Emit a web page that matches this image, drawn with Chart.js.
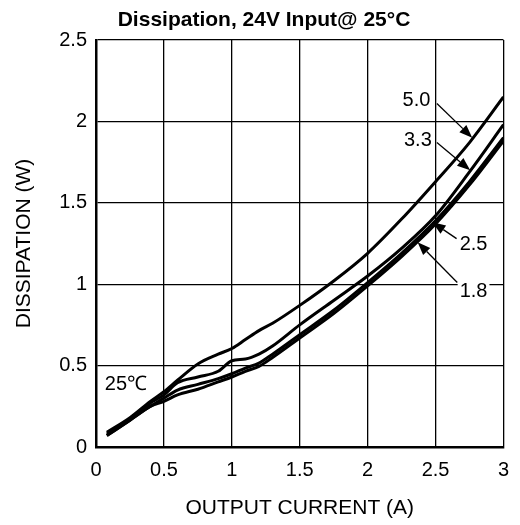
<!DOCTYPE html>
<html><head><meta charset="utf-8">
<script src="https://cdn.jsdelivr.net/npm/chart.js@4/dist/chart.umd.min.js"></script>
<style>html,body{margin:0;padding:0;background:#fff}#wrap{width:520px;height:525px}</style>
</head><body><div id="wrap"><canvas id="c" width="520" height="525"></canvas></div>
<script>
const current = [0.08, 0.25, 0.4, 0.5, 0.6, 0.75, 0.9, 1.0, 1.1, 1.2, 1.3, 1.5, 1.75, 2.0, 2.25, 2.5, 2.75, 3.0];
const v50 = [0.09, 0.18, 0.28, 0.34, 0.41, 0.51, 0.57, 0.605, 0.66, 0.715, 0.76, 0.87, 1.02, 1.19, 1.40, 1.63, 1.87, 2.15];
const v33 = [0.08, 0.17, 0.27, 0.32, 0.395, 0.43, 0.465, 0.53, 0.54, 0.57, 0.62, 0.75, 0.90, 1.05, 1.22, 1.42, 1.69, 1.98];
const v25 = [0.07, 0.165, 0.25, 0.30, 0.35, 0.385, 0.42, 0.45, 0.485, 0.515, 0.57, 0.69, 0.84, 1.01, 1.19, 1.39, 1.63, 1.90];
const v18 = [0.07, 0.165, 0.25, 0.28, 0.32, 0.355, 0.40, 0.43, 0.465, 0.495, 0.55, 0.67, 0.82, 0.99, 1.17, 1.37, 1.61, 1.88];
const seriesNames = ['5.0', '3.3', '2.5', '1.8'];
const xTicks = [0, 0.5, 1, 1.5, 2, 2.5, 3];
const yTicks = [0, 0.5, 1, 1.5, 2, 2.5];
const titleText = 'Dissipation, 24V Input@ 25°C';
const xTitle = 'OUTPUT CURRENT (A)';
const yTitle = 'DISSIPATION (W)';
const tempLabel = '25℃';
// labels: text position, leader start, arrow tip (data units)
const callouts = [
  {text: '5.0', tx: 2.36, ty: 2.13, sx: 2.51, sy: 2.11, ex: 2.77, ey: 1.90, bg: false},
  {text: '3.3', tx: 2.37, ty: 1.88, sx: 2.51, sy: 1.87, ex: 2.755, ey: 1.70, bg: false},
  {text: '2.5', tx: 2.78, ty: 1.245, sx: 2.655, sy: 1.28, ex: 2.478, ey: 1.38, bg: true},
  {text: '1.8', tx: 2.78, ty: 0.957, sx: 2.66, sy: 1.01, ex: 2.368, ey: 1.258, bg: true}
];
const tempPos = {x: 0.065, y: 0.385};

const FONT = 'Arial, "Liberation Sans", sans-serif';
function mk(vals){ return current.map((x,i)=>({x:x, y:vals[i]})); }
const all = [v50, v33, v25, v18];

const annot = {
  id: 'annot',
  afterDatasetsDraw(chart){
    const ctx = chart.ctx, xs = chart.scales.x, ys = chart.scales.y;
    ctx.save();
    ctx.font = '20px ' + FONT;
    ctx.fillStyle = '#000'; ctx.strokeStyle = '#000';
    callouts.forEach(c=>{
      const tx = xs.getPixelForValue(c.tx), ty = ys.getPixelForValue(c.ty);
      const sx = xs.getPixelForValue(c.sx), sy = ys.getPixelForValue(c.sy);
      const ex = xs.getPixelForValue(c.ex), ey = ys.getPixelForValue(c.ey);
      if (c.bg){
        const w = ctx.measureText(c.text).width;
        ctx.fillStyle = '#fff';
        ctx.fillRect(tx - w/2 - 2, ty - 10, w + 4, 20);
        ctx.fillStyle = '#000';
      }
      ctx.textAlign = 'center'; ctx.textBaseline = 'middle';
      ctx.fillText(c.text, tx, ty);
      const ang = Math.atan2(ey - sy, ex - sx);
      const L = 13, W = 5;
      const bx = ex - L*Math.cos(ang), by = ey - L*Math.sin(ang);
      ctx.lineWidth = 1.3;
      ctx.beginPath(); ctx.moveTo(sx, sy); ctx.lineTo(bx, by); ctx.stroke();
      ctx.beginPath();
      ctx.moveTo(ex, ey);
      ctx.lineTo(bx + W*Math.sin(ang), by - W*Math.cos(ang));
      ctx.lineTo(bx - W*Math.sin(ang), by + W*Math.cos(ang));
      ctx.closePath(); ctx.fill();
    });
    ctx.textAlign = 'left'; ctx.textBaseline = 'middle';
    ctx.fillText(tempLabel, xs.getPixelForValue(tempPos.x), ys.getPixelForValue(tempPos.y));
    // title
    ctx.font = 'bold 21px ' + FONT;
    ctx.textAlign = 'center';
    ctx.fillText(titleText, 264, 20);
    ctx.restore();
  }
};

new Chart(document.getElementById('c'), {
  type: 'line',
  data: {
    datasets: all.map((v,i)=>({
      label: seriesNames[i], data: mk(v),
      borderColor: '#000', borderWidth: 3, pointRadius: 0,
      fill: false, cubicInterpolationMode: 'monotone'
    }))
  },
  options: {
    responsive: false, animation: false,
    layout: {padding: {top: 40, right: 6, left: 0, bottom: 0}},
    plugins: {legend: {display: false}, title: {display: false}, tooltip: {enabled: false}},
    scales: {
      x: {
        type: 'linear', min: 0, max: 3,
        afterBuildTicks: s => { s.ticks = xTicks.map(v=>({value: v})); },
        afterFit: s => { s.height = 78; },
        grid: {color: '#000', lineWidth: 1.3, drawTicks: false},
        border: {color: '#000', width: 2.5},
        ticks: {color: '#000', font: {size: 20, family: FONT}, padding: 11, maxRotation: 0,
                callback: v => String(v)},
        title: {display: true, text: xTitle, color: '#000', font: {size: 21, family: FONT}, padding: {top: 8}}
      },
      y: {
        type: 'linear', min: 0, max: 2.5,
        afterBuildTicks: s => { s.ticks = yTicks.map(v=>({value: v})); },
        afterFit: s => { s.width = 96; },
        grid: {color: '#000', lineWidth: 1.3, drawTicks: false},
        border: {color: '#000', width: 2.5},
        ticks: {color: '#000', font: {size: 20, family: FONT}, padding: 9, callback: v => String(v)},
        title: {display: true, text: yTitle, color: '#000', font: {size: 21, family: FONT}, padding: {top: 12, bottom: 0}}
      }
    }
  },
  plugins: [annot]
});
</script></body></html>
